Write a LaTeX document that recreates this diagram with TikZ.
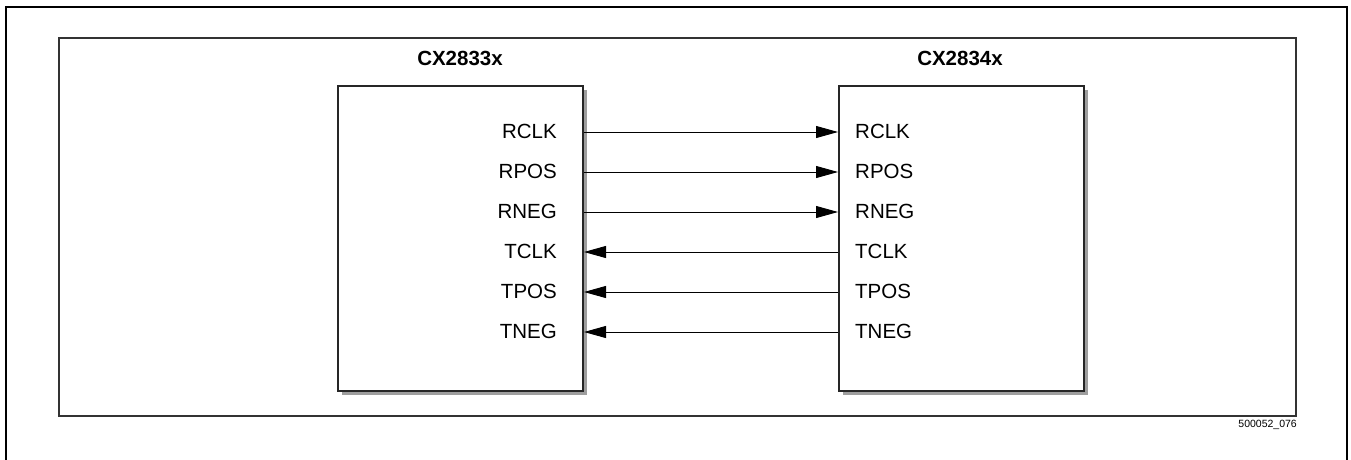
\documentclass[tikz,border=0pt]{standalone}
\usepackage{fontspec}
\setmainfont{Liberation Sans}
\usetikzlibrary{arrows.meta}
\begin{document}
\begin{tikzpicture}[x=1pt,y=-1pt,
  chip/.style={draw=black!85,line width=2pt,fill=white,minimum width=245pt,minimum height=305pt,anchor=north west,inner sep=0pt},
  shadowbox/.style={fill=black!38,draw=none,minimum width=245pt,minimum height=305pt,anchor=north west,inner sep=0pt},
  sig/.style={font=\fontsize{20.5}{24}\selectfont,inner sep=0pt},
  ttl/.style={font=\bfseries\fontsize{20.5}{24}\selectfont,inner sep=0pt},
  conn/.style={line width=0.9pt,-{Triangle[length=22pt,width=12pt]}}]
\useasboundingbox (0,0) rectangle (1351,459);
% outer frame
\draw[line width=2pt] (6,470) -- (6,7) -- (1347,7) -- (1347,470);
% inner frame
\draw[line width=1.5pt,draw=black!80] (59,38) rectangle (1296,416);
% shadows and boxes
\node[shadowbox] (sA) at (342,90) {};
\node[shadowbox] (sB) at (843,90) {};
\node[chip] (A) at (337,85) {};
\node[chip] (B) at (838,85) {};
\node[ttl] (tA) at (460,58) {CX2833x};
\node[ttl] (tB) at (960,58) {CX2834x};
% labels
\foreach \n/\y in {RCLK/131,RPOS/171,RNEG/211,TCLK/251,TPOS/291,TNEG/331}{
  \node[sig,anchor=east] (L\n) at (557,\y) {\n};
  \node[sig,anchor=west] (R\n) at (855,\y) {\n};
  \coordinate (LA\n) at (A.east |- 0,\y+1);
  \coordinate (RB\n) at (B.west |- 0,\y+1);
}
\foreach \n in {RCLK,RPOS,RNEG}{
  \draw[conn] (LA\n) -- (RB\n);
}
\foreach \n in {TCLK,TPOS,TNEG}{
  \draw[conn] (RB\n) -- (LA\n);
}
\node[font=\fontsize{10.5}{12}\selectfont,anchor=north east,inner sep=0pt] (fn) at (1297,420) {500052\_076};
\end{tikzpicture}
\end{document}
